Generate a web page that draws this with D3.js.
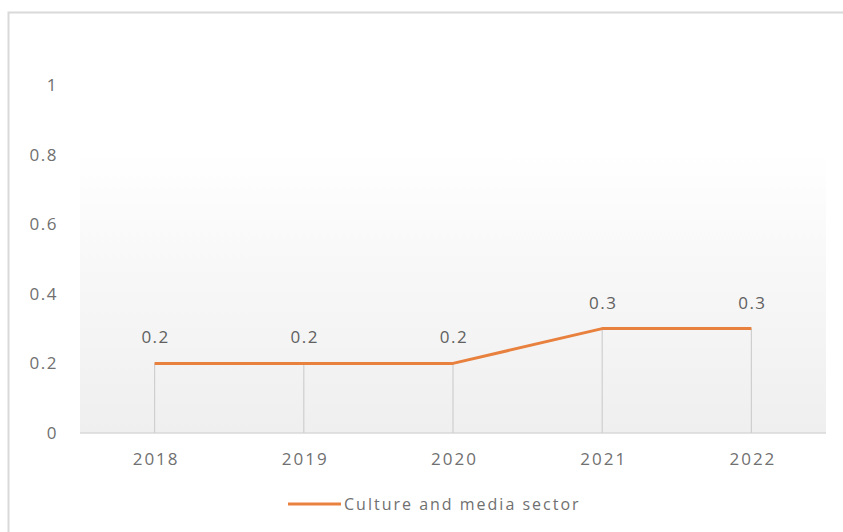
<!DOCTYPE html>
<html><head><meta charset="utf-8">
<script src="https://cdn.jsdelivr.net/npm/d3@7"></script>
<style>
html,body{margin:0;padding:0;background:#fff;}
svg{display:block;}
text{font-family:"Open Sans","Liberation Sans",sans-serif;}
</style></head>
<body>
<svg id="chart" width="843" height="532"></svg>
<script>
const years = ["2018","2019","2020","2021","2022"];
const values = [0.2, 0.2, 0.2, 0.3, 0.3];
const yTicks = [0, 0.2, 0.4, 0.6, 0.8, 1];
const seriesName = "Culture and media sector";

const svg = d3.select("#chart");
const W = 843, H = 532;
const plot = {left: 80, right: 826, top: 85, bottom: 433};
const FONT = '"Open Sans","Liberation Sans",sans-serif';

// outer border
svg.append("rect").attr("x", 8.5).attr("y", 12.5).attr("width", W).attr("height", H)
  .attr("fill", "#fff").attr("stroke", "#d9d9d9").attr("stroke-width", 2);

const defs = svg.append("defs");
const grad = defs.append("linearGradient").attr("id", "bg").attr("x1", 0).attr("y1", 0).attr("x2", 0).attr("y2", 1);
grad.append("stop").attr("offset", "0%").attr("stop-color", "#ffffff");
grad.append("stop").attr("offset", "20%").attr("stop-color", "#fbfbfb");
grad.append("stop").attr("offset", "100%").attr("stop-color", "#efefef");

const x = d3.scalePoint().domain(years).range([plot.left, plot.right]).padding(0.5);
const y = d3.scaleLinear().domain([0, 1]).range([plot.bottom, plot.top]);

svg.append("rect").attr("x", plot.left).attr("y", y(0.8) - 1)
  .attr("width", plot.right - plot.left).attr("height", plot.bottom - y(0.8) + 1)
  .attr("fill", "url(#bg)");

// y axis labels
const yAxis = d3.axisLeft(y).tickValues(yTicks).tickSize(0).tickPadding(0)
  .tickFormat(d => d3.format("~g")(d));
const gy = svg.append("g").attr("transform", "translate(58,0)").call(yAxis);
gy.select(".domain").remove();
gy.selectAll("text").attr("fill", "#707070").style("font-size", "17px")
  .style("font-family", FONT).attr("letter-spacing", "1.5px");

// x axis
const xAxis = d3.axisBottom(x).tickSize(0).tickPadding(20);
const gx = svg.append("g").attr("transform", `translate(0,${plot.bottom})`).call(xAxis);
gx.select(".domain").attr("stroke", "#d9d9d9").attr("stroke-width", 1.5)
  .attr("d", `M${plot.left},0H${plot.right}`);
gx.selectAll("text").attr("fill", "#707070").style("font-size", "17px")
  .style("font-family", FONT).attr("letter-spacing", "2px").attr("dx", "1px");

// drop lines
svg.append("g").selectAll("line").data(years).join("line")
  .attr("x1", d => x(d)).attr("x2", d => x(d))
  .attr("y1", (d, i) => y(values[i])).attr("y2", plot.bottom)
  .attr("stroke", "#cfcfcf").attr("stroke-width", 1.2);

// line
const line = d3.line().x((d, i) => x(years[i])).y(d => y(d));
svg.append("path").datum(values).attr("d", line)
  .attr("fill", "none").attr("stroke", "#e8803e").attr("stroke-width", 3)
  .attr("stroke-linejoin", "round");

// data labels
svg.append("g").selectAll("text").data(values).join("text")
  .attr("x", (d, i) => x(years[i]) + 1).attr("y", d => y(d) - 20)
  .attr("text-anchor", "middle").attr("fill", "#606060")
  .attr("font-size", "17px").attr("letter-spacing", "1.5px")
  .text(d => d3.format(".1f")(d));

// legend
const lg = svg.append("g");
lg.append("line").attr("x1", 288).attr("x2", 341).attr("y1", 504).attr("y2", 504)
  .attr("stroke", "#e8803e").attr("stroke-width", 3);
lg.append("text").attr("x", 344).attr("y", 504).attr("dy", "0.35em")
  .attr("fill", "#707070").attr("font-size", "16px").attr("letter-spacing", "2px")
  .text(seriesName);
</script>
</body></html>
